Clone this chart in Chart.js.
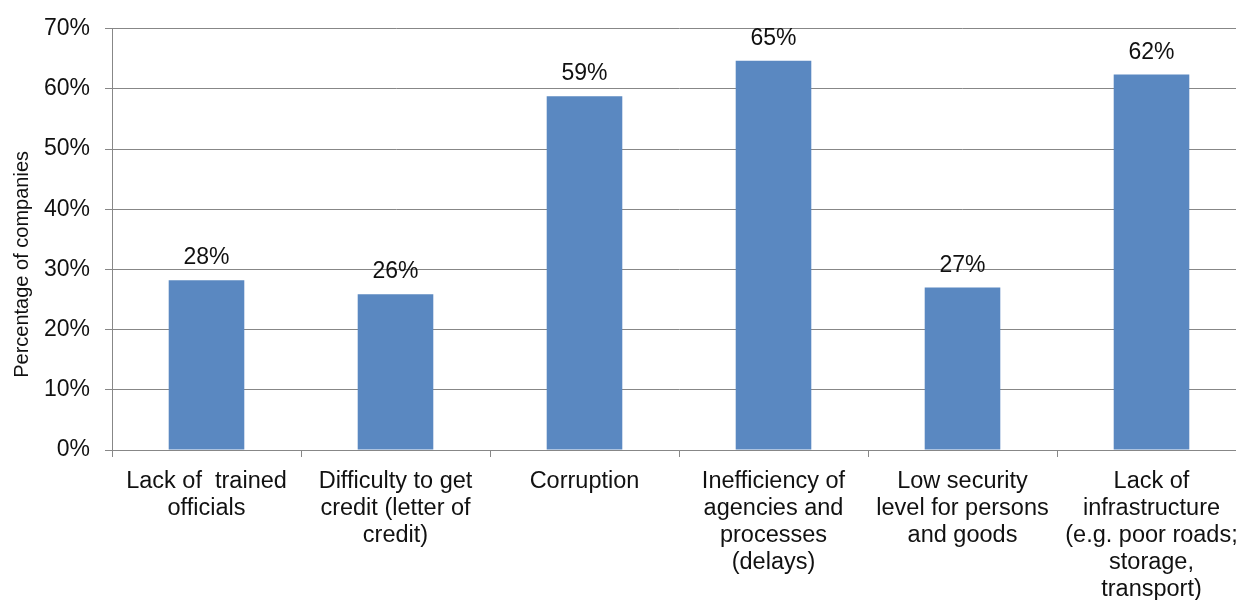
<!DOCTYPE html>
<html lang="en">
<head>
    <meta charset="UTF-8">
    <title>Constraints reported by companies</title>
    <style>
        body {
            margin: 0;
            padding: 0;
            background: #fff;
            overflow: hidden;
        }
        .chart-box {
            width: 1250px;
            height: 600px;
        }
    </style>
</head>
<body>
    <div class="chart-box">
        <canvas id="constraintsChart"></canvas>
    </div>

    <script src="https://cdn.jsdelivr.net/npm/chart.js"></script>
    <script>
        // categories (x axis labels, already wrapped into lines)
        const categories = [
            ['Lack of  trained', 'officials'],
            ['Difficulty to get', 'credit (letter of', 'credit)'],
            ['Corruption'],
            ['Inefficiency of', 'agencies and', 'processes', '(delays)'],
            ['Low security', 'level for persons', 'and goods'],
            ['Lack of', 'infrastructure', '(e.g. poor roads;', 'storage,', 'transport)']
        ];
        // share of companies, in percent
        const shares = [28.2, 25.9, 58.8, 64.7, 27.0, 62.4];
        // y axis tick values
        const yTicks = [0, 10, 20, 30, 40, 50, 60, 70];

        const FONT = '"Liberation Sans", Arial, sans-serif';
        const GRID = '#878787';

        // value labels above each bar
        const barLabels = {
            id: 'barLabels',
            afterDatasetsDraw(chart) {
                const ctx = chart.ctx;
                const meta = chart.getDatasetMeta(0);
                ctx.save();
                ctx.font = '23px ' + FONT;
                ctx.fillStyle = '#111';
                ctx.textAlign = 'center';
                ctx.textBaseline = 'alphabetic';
                meta.data.forEach((bar, i) => {
                    ctx.fillText(Math.round(shares[i]) + '%', bar.x, bar.y - 16);
                });
                ctx.restore();
            }
        };

        // rotated y axis title
        const yTitle = {
            id: 'yTitle',
            afterDraw(chart) {
                const ctx = chart.ctx;
                const area = chart.chartArea;
                ctx.save();
                ctx.translate(22, (area.top + area.bottom) / 2 + 25);
                ctx.rotate(-Math.PI / 2);
                ctx.font = '20px ' + FONT;
                ctx.fillStyle = '#111';
                ctx.textAlign = 'center';
                ctx.textBaseline = 'middle';
                ctx.fillText('Percentage of companies', 0, 0);
                ctx.restore();
            }
        };

        new Chart(document.getElementById('constraintsChart'), {
            type: 'bar',
            data: {
                labels: categories,
                datasets: [{
                    data: shares,
                    backgroundColor: '#5a88c1',
                    borderWidth: 0,
                    categoryPercentage: 1,
                    barPercentage: 0.4
                }]
            },
            options: {
                responsive: true,
                maintainAspectRatio: false,
                animation: false,
                layout: {
                    padding: { top: 26, right: 4, bottom: 0, left: 0 }
                },
                plugins: {
                    legend: { display: false },
                    tooltip: { enabled: false }
                },
                scales: {
                    x: {
                        offset: true,
                        grid: {
                            offset: true,
                            drawOnChartArea: false,
                            drawTicks: true,
                            tickLength: 7,
                            color: GRID
                        },
                        border: { display: true, color: GRID },
                        ticks: {
                            autoSkip: false,
                            maxRotation: 0,
                            minRotation: 0,
                            padding: 11,
                            color: '#111',
                            font: { family: FONT, size: 23.5, lineHeight: 1.15 }
                        },
                        afterFit(scale) {
                            scale.height = 150;
                        }
                    },
                    y: {
                        min: 0,
                        max: 70,
                        afterBuildTicks(scale) {
                            scale.ticks = yTicks.map(v => ({ value: v }));
                        },
                        grid: {
                            color: GRID,
                            drawTicks: true,
                            tickLength: 7
                        },
                        border: { display: true, color: GRID },
                        ticks: {
                            padding: 15,
                            color: '#111',
                            font: { family: FONT, size: 23 },
                            callback: v => v + '%'
                        },
                        afterFit(scale) {
                            scale.width = 112;
                        }
                    }
                }
            },
            plugins: [barLabels, yTitle]
        });
    </script>
</body>
</html>
